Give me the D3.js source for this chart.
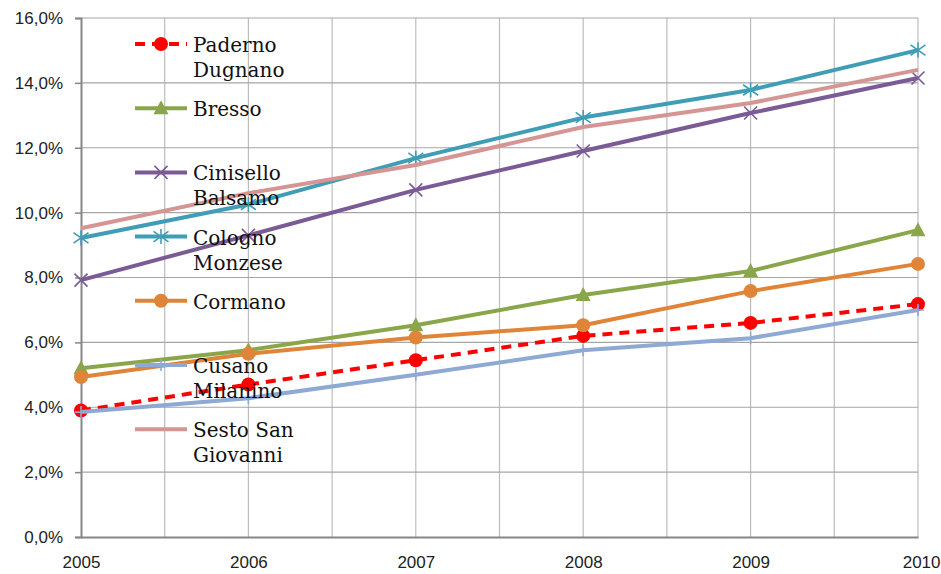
<!DOCTYPE html>
<html><head><meta charset="utf-8">
<script src="https://cdn.jsdelivr.net/npm/d3@7/dist/d3.min.js"></script>
<style>body{margin:0;background:#fff}svg{display:block}</style>
</head><body><svg id="c" width="941" height="574"></svg>
<script>
const years = [2005, 2006, 2007, 2008, 2009, 2010];
const yTicks = [0, 2, 4, 6, 8, 10, 12, 14, 16];
const seriesNames = [["Paderno", "Dugnano"], ["Bresso"], ["Cinisello", "Balsamo"], ["Cologno", "Monzese"], ["Cormano"], ["Cusano", "Milanino"], ["Sesto San", "Giovanni"]];
const paderno = [3.9, 4.7, 5.45, 6.2, 6.6, 7.18];
const bresso = [5.2, 5.76, 6.53, 7.46, 8.2, 9.46];
const cinisello = [7.92, 9.3, 10.7, 11.9, 13.07, 14.15];
const cologno = [9.22, 10.25, 11.68, 12.93, 13.78, 15.01];
const cormano = [4.93, 5.65, 6.15, 6.53, 7.58, 8.42];
const cusano = [3.85, 4.28, 5.0, 5.76, 6.13, 7.0];
const sesto = [9.52, 10.6, 11.47, 12.64, 13.38, 14.4];
const colors = ["#ff0000", "#8aa64b", "#7a5b96", "#3f9db6", "#e08438", "#8ea9d4", "#d59593"];
const markers = ["circle", "triangle", "x", "star", "circle", "plus", "none"];
const allValues = [paderno, bresso, cinisello, cologno, cormano, cusano, sesto];

const svg = d3.select("#c");
const x = d3.scaleLinear().domain([2005, 2010]).range([81, 918]);
const y = d3.scaleLinear().domain([0, 16]).range([537, 18]);

// gridlines
const g = svg.append("g");
const halfYears = d3.range(2005.5, 2010.01, 0.5);
g.selectAll("line.vg").data(halfYears).join("line")
  .attr("x1", d => x(d)).attr("x2", d => x(d)).attr("y1", y(16)).attr("y2", y(0))
  .attr("stroke", "#bdbdbd").attr("stroke-width", 1.2);
g.selectAll("line.hg").data(yTicks.slice(1)).join("line")
  .attr("x1", x(2005)).attr("x2", x(2010)).attr("y1", d => y(d)).attr("y2", d => y(d))
  .attr("stroke", "#a6a6a6").attr("stroke-width", 1.2);

// y axis
const yAxis = d3.axisLeft(y).tickValues(yTicks).tickSize(6).tickPadding(12)
  .tickFormat(d => d.toFixed(1).replace(".", ",") + "%");
const ya = svg.append("g").attr("transform", `translate(${x(2005)},0)`).call(yAxis);
ya.select(".domain").attr("stroke", "#868686").attr("stroke-width", 2);
ya.selectAll(".tick line").attr("stroke", "#868686").attr("stroke-width", 1.5);
ya.selectAll("text").attr("font-family", "Liberation Sans, Arial, sans-serif").attr("font-size", 17).attr("fill", "#222");

// x axis
const xAxis = d3.axisBottom(x).tickValues(years).tickSize(0).tickPadding(19).tickFormat(d3.format("d"));
const xa = svg.append("g").attr("transform", `translate(0,${y(0)})`).call(xAxis);
xa.select(".domain").attr("stroke", "#868686").attr("stroke-width", 2);
xa.selectAll("text").attr("font-family", "Liberation Sans, Arial, sans-serif").attr("font-size", 17).attr("fill", "#222");
xa.selectAll(".tick").filter(d => d === 2010).select("text").attr("text-anchor", "end").attr("dx", 22);

function drawMarker(sel, type, color, cx, cy) {
  if (type === "circle") {
    sel.append("circle").attr("cx", cx).attr("cy", cy).attr("r", 7).attr("fill", color);
  } else if (type === "triangle") {
    sel.append("path").attr("d", `M${cx},${cy - 8}L${cx + 7.5},${cy + 6}L${cx - 7.5},${cy + 6}Z`).attr("fill", color);
  } else if (type === "x") {
    const s = 6.5;
    sel.append("path").attr("d", `M${cx - s},${cy - s}L${cx + s},${cy + s}M${cx - s},${cy + s}L${cx + s},${cy - s}`)
      .attr("stroke", color).attr("stroke-width", 1.6);
  } else if (type === "star") {
    const s = 7.5;
    sel.append("path").attr("d", `M${cx - s},${cy - s * 0.7}L${cx + s},${cy + s * 0.7}M${cx - s},${cy + s * 0.7}L${cx + s},${cy - s * 0.7}M${cx},${cy - s}L${cx},${cy + s}`)
      .attr("stroke", color).attr("stroke-width", 1.6);
  } else if (type === "plus") {
    const s = 6;
    sel.append("path").attr("d", `M${cx},${cy - s}L${cx},${cy + s}M${cx - s},${cy}L${cx + s},${cy}`)
      .attr("stroke", color).attr("stroke-width", 1.6);
  }
}

const line = d3.line().x((d, i) => x(years[i])).y(d => y(d));
allValues.forEach((vals, k) => {
  const sg = svg.append("g");
  sg.append("path").attr("d", line(vals)).attr("fill", "none").attr("stroke", colors[k])
    .attr("stroke-width", 4).attr("stroke-linejoin", "round")
    .attr("stroke-dasharray", k === 0 ? "10,7" : null);
  vals.forEach((v, i) => drawMarker(sg, markers[k], colors[k], x(years[i]), y(v)));
});

// legend
const lg = svg.append("g");
seriesNames.forEach((names, k) => {
  const ly = 44 + k * 64.2;
  lg.append("line").attr("x1", 135).attr("x2", 187).attr("y1", ly).attr("y2", ly)
    .attr("stroke", colors[k]).attr("stroke-width", 4)
    .attr("stroke-dasharray", k === 0 ? "10,7" : null);
  drawMarker(lg, markers[k], colors[k], 161, ly);
  const t = lg.append("text").attr("x", 193).attr("y", ly + 8)
    .attr("font-family", "DejaVu Serif, serif").attr("font-size", 20).attr("fill", "#111");
  names.forEach((n, j) => t.append("tspan").attr("x", 193).attr("dy", j === 0 ? 0 : 25).text(n));
});
</script></body></html>
